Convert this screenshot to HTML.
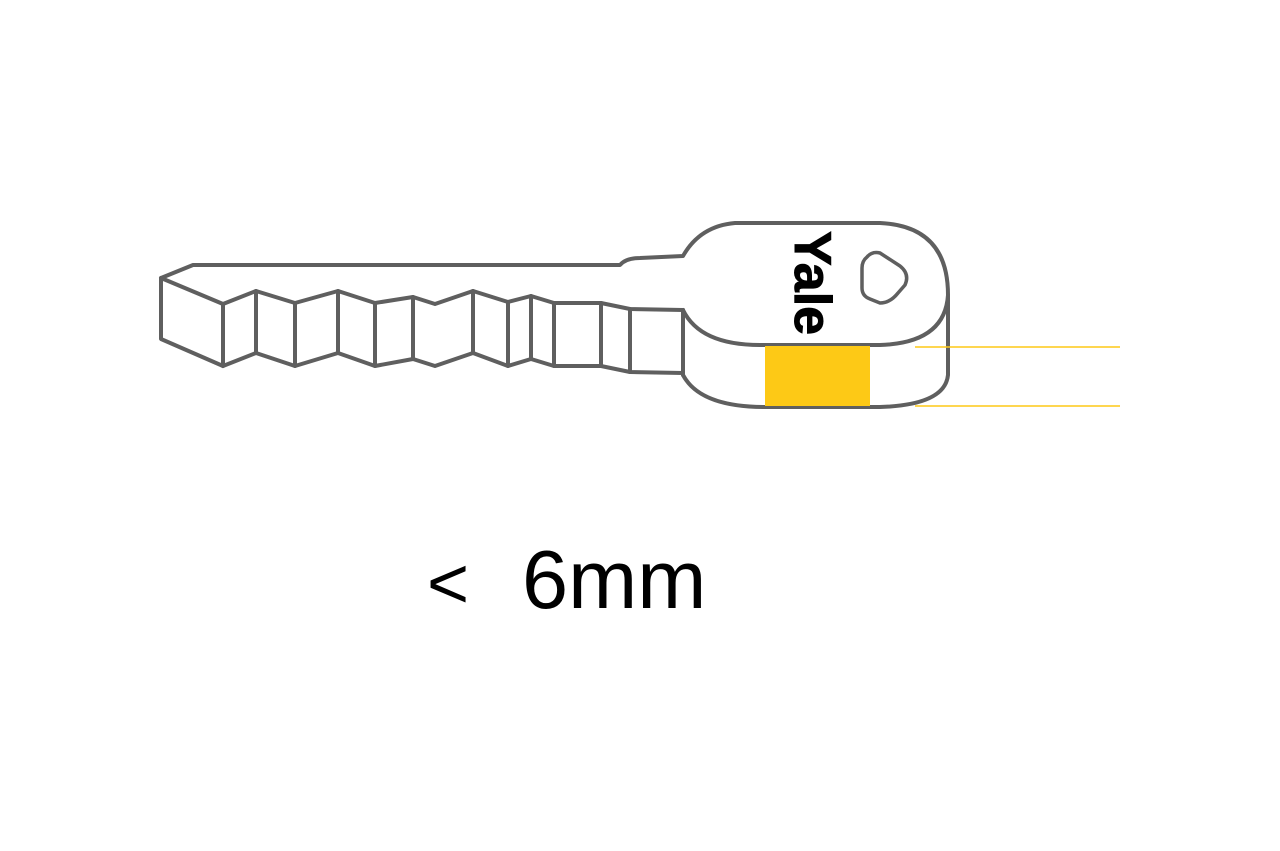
<!DOCTYPE html>
<html><head><meta charset="utf-8"><style>
html,body{margin:0;padding:0;background:#fff;}
</style></head><body>
<svg width="1280" height="846" viewBox="0 0 1280 846" xmlns="http://www.w3.org/2000/svg">
<rect width="1280" height="846" fill="#fff"/>
<g fill="none" stroke="#5f5f5f" stroke-width="4" stroke-linejoin="round" stroke-linecap="round">
<path d="M161,278 L193,265 L620,265 Q626,258 640,258 L683,256 Q700,226 735,223 L880,223 Q948,226 948,295 L948,375 Q945,405 880,407 L765,407 Q700,407 683,375"/>
<path d="M161,278 L161,339 L223,366 L223,304 Z"/>
<polyline points="223,304 256,291 295,303 338,291 375,303 413,297 435,304 473,291 508,302 531,296 554,303 601,303 630,309 683,310"/>
<polyline points="223,366 256,353 295,366 338,353 375,366 413,359 435,366 473,353 508,366 531,359 554,366 601,366 630,372 683,373"/>
<path d="M256,291V353 M295,303V366 M338,291V353 M375,303V366 M413,297V359 M473,291V353 M508,302V366 M531,296V359 M554,303V366 M601,303V366 M630,309V372 M683,310V375"/>
<path d="M683,310 Q700,345 760,345 L880,345 Q945,343 948,295"/>
<path d="M867,257 Q872,251 880,253 L900,266 Q910,274 905,285 L898,293 Q890,303 880,303 L870,299 Q862,296 862,288 L862,268 Q862,261 867,257 Z" stroke-width="3.5"/>
</g>
<rect x="765" y="346" width="105" height="60" fill="#fdc916"/>
<line x1="915" y1="347" x2="1120" y2="347" stroke="#fdc916" stroke-width="1.5"/>
<line x1="915" y1="406" x2="1120" y2="406" stroke="#fdc916" stroke-width="1.5"/>
<text x="0" y="0" transform="translate(795,283) rotate(90)" text-anchor="middle" font-family="Liberation Sans, sans-serif" font-weight="bold" font-size="52" fill="#000" stroke="#000" stroke-width="1">Yale</text>
<text x="427" y="608" font-family="Liberation Sans, sans-serif" font-size="72" fill="#000">&lt;</text>
<text x="522" y="608" font-family="Liberation Sans, sans-serif" font-size="83" fill="#000">6mm</text>
</svg>
</body></html>
